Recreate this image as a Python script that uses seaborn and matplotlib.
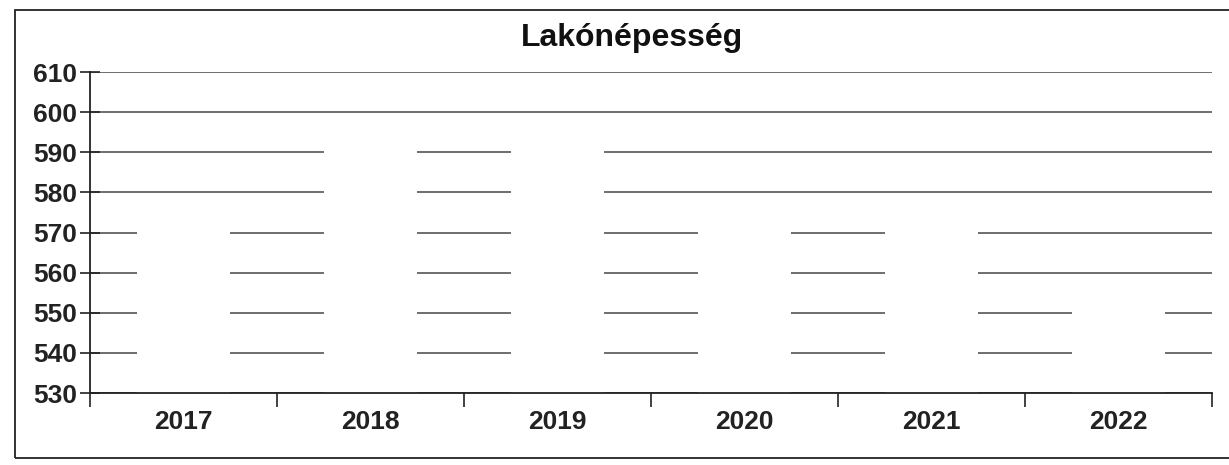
import matplotlib
matplotlib.use("Agg")
import matplotlib.pyplot as plt
import seaborn as sns
import pandas as pd
from matplotlib.patches import Rectangle

years = ["2017", "2018", "2019", "2020", "2021", "2022"]
population = [575, 595, 595, 575, 575, 555]
y_ticks = [530, 540, 550, 560, 570, 580, 590, 600, 610]
title = "Lakónépesség"

sns.set_theme(style="white")
plt.rcParams['font.family'] = ['Liberation Sans', 'DejaVu Sans']

df = pd.DataFrame({"year": years, "pop": population})

fig = plt.figure(figsize=(12.29, 4.65), dpi=100)
ax = fig.add_axes([90/1229, 1-393/465, (1212-90)/1229, (393-72)/465])

sns.barplot(data=df, x="year", y="pop", color="white", width=0.5,
            saturation=1, edgecolor="none", ax=ax, zorder=3)

ax.set_ylim(530, 610)
ax.set_yticks(y_ticks)
ax.set_yticklabels([str(t) for t in y_ticks], fontsize=19, fontweight="bold", color="#222222")
ax.set_xlim(-0.5, len(years) - 0.5)
ax.set_xticks(range(len(years)))
ax.set_xticklabels(years, fontsize=19, fontweight="bold", color="#222222")
ax.set_xticks([i - 0.5 for i in range(len(years) + 1)], minor=True)
ax.tick_params(axis="x", which="major", length=0, pad=12, bottom=True)
ax.tick_params(axis="x", which="minor", length=10, width=1.2, color="#222222",
               direction="out", bottom=True)
ax.tick_params(axis="y", which="major", length=14, width=1.2, color="#222222",
               direction="inout", pad=2, left=True)

ax.yaxis.grid(True, color="#555555", linewidth=1.2)
ax.set_axisbelow(True)
for g in ax.get_ygridlines():
    g.set_zorder(1)

for s in ["top", "right"]:
    ax.spines[s].set_visible(False)
for s in ["left", "bottom"]:
    ax.spines[s].set_color("#222222")
    ax.spines[s].set_linewidth(1.3)
    ax.spines[s].set_zorder(5)

ax.set_xlabel("")
ax.set_ylabel("")
fig.text(632/1229, 1-38/465, title, ha="center", va="center",
         fontsize=23, fontweight="bold", color="#111111")

fig.patches.append(Rectangle((15/1229, 1-458/465), 1.0, (458-10)/465,
                             transform=fig.transFigure, fill=False,
                             edgecolor="#222222", linewidth=1.3))

fig.savefig("out.png", dpi=100)
